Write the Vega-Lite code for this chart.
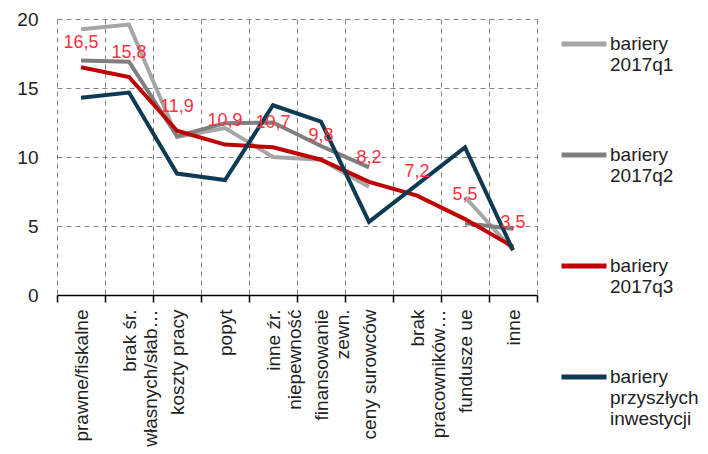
{
  "$schema": "https://vega.github.io/schema/vega-lite/v6.json",
  "width": 480,
  "height": 276,
  "autosize": {"type": "none"},
  "padding": {"left": 57, "top": 19, "right": 171, "bottom": 159},
  "background": "white",
  "config": {
    "font": "Liberation Sans",
    "view": {"stroke": null},
    "locale": {"number": {"decimal": ",", "thousands": " ", "grouping": [3], "currency": ["", " zł"]}}
  },
  "data": {
    "values": [
      {"cat": "prawne/fiskalne", "series": "bariery 2017q1", "value": 19.25},
      {"cat": "brak śr.\nwłasnych/słab…", "series": "bariery 2017q1", "value": 19.6},
      {"cat": "koszty pracy", "series": "bariery 2017q1", "value": 11.45},
      {"cat": "popyt", "series": "bariery 2017q1", "value": 12.1},
      {"cat": "inne źr.\nniepewność", "series": "bariery 2017q1", "value": 10.0},
      {"cat": "finansowanie\nzewn.", "series": "bariery 2017q1", "value": 9.8},
      {"cat": "ceny surowców", "series": "bariery 2017q1", "value": 7.85},
      {"cat": "brak\npracowników…", "series": "bariery 2017q1", "value": null},
      {"cat": "fundusze ue", "series": "bariery 2017q1", "value": 7.1},
      {"cat": "inne", "series": "bariery 2017q1", "value": 3.25},
      {"cat": "prawne/fiskalne", "series": "bariery 2017q2", "value": 17.0},
      {"cat": "brak śr.\nwłasnych/słab…", "series": "bariery 2017q2", "value": 16.9},
      {"cat": "koszty pracy", "series": "bariery 2017q2", "value": 11.5},
      {"cat": "popyt", "series": "bariery 2017q2", "value": 12.45},
      {"cat": "inne źr.\nniepewność", "series": "bariery 2017q2", "value": 12.5},
      {"cat": "finansowanie\nzewn.", "series": "bariery 2017q2", "value": 10.8},
      {"cat": "ceny surowców", "series": "bariery 2017q2", "value": 9.25},
      {"cat": "brak\npracowników…", "series": "bariery 2017q2", "value": null},
      {"cat": "fundusze ue", "series": "bariery 2017q2", "value": 5.2},
      {"cat": "inne", "series": "bariery 2017q2", "value": 4.8},
      {"cat": "prawne/fiskalne", "series": "bariery 2017q3", "value": 16.5},
      {"cat": "brak śr.\nwłasnych/słab…", "series": "bariery 2017q3", "value": 15.8},
      {"cat": "koszty pracy", "series": "bariery 2017q3", "value": 11.9},
      {"cat": "popyt", "series": "bariery 2017q3", "value": 10.9},
      {"cat": "inne źr.\nniepewność", "series": "bariery 2017q3", "value": 10.7},
      {"cat": "finansowanie\nzewn.", "series": "bariery 2017q3", "value": 9.8},
      {"cat": "ceny surowców", "series": "bariery 2017q3", "value": 8.2},
      {"cat": "brak\npracowników…", "series": "bariery 2017q3", "value": 7.2},
      {"cat": "fundusze ue", "series": "bariery 2017q3", "value": 5.5},
      {"cat": "inne", "series": "bariery 2017q3", "value": 3.5},
      {"cat": "prawne/fiskalne", "series": "bariery przyszłych inwestycji", "value": 14.3},
      {"cat": "brak śr.\nwłasnych/słab…", "series": "bariery przyszłych inwestycji", "value": 14.67},
      {"cat": "koszty pracy", "series": "bariery przyszłych inwestycji", "value": 8.8},
      {"cat": "popyt", "series": "bariery przyszłych inwestycji", "value": 8.33},
      {"cat": "inne źr.\nniepewność", "series": "bariery przyszłych inwestycji", "value": 13.75},
      {"cat": "finansowanie\nzewn.", "series": "bariery przyszłych inwestycji", "value": 12.56},
      {"cat": "ceny surowców", "series": "bariery przyszłych inwestycji", "value": 5.3},
      {"cat": "brak\npracowników…", "series": "bariery przyszłych inwestycji", "value": 8.0},
      {"cat": "fundusze ue", "series": "bariery przyszłych inwestycji", "value": 10.7},
      {"cat": "inne", "series": "bariery przyszłych inwestycji", "value": 3.25}
    ]
  },
  "layer": [
    {
      "mark": {"type": "line", "strokeWidth": 4, "invalid": "break-paths-show-domains"},
      "encoding": {
        "x": {
          "field": "cat", "type": "nominal", "sort": null,
          "scale": {"type": "band", "paddingInner": 0, "paddingOuter": 0},
          "axis": {
            "title": null,
            "tickBand": "extent",
            "grid": true, "gridDash": [5, 4], "gridColor": "#808080", "gridWidth": 1,
            "domainColor": "#000000", "domainWidth": 1.5,
            "tickColor": "#000000", "tickWidth": 1.5, "tickSize": 7,
            "labelAngle": -90, "labelAlign": "right", "labelBaseline": "middle",
            "labelFontSize": 19, "labelColor": "#222222", "labelPadding": 7,
            "labelLimit": 250, "labelOverlap": false,
            "labelExpr": "split(datum.label, '\\n')",
            "encode": {"labels": {"update": {"dy": {"signal": "length(split(datum.value, '\\n')) > 1 ? -11 : 0"}}}}
          }
        },
        "y": {
          "field": "value", "type": "quantitative",
          "scale": {"domain": [0, 20], "nice": false},
          "axis": {
            "title": null, "values": [0, 5, 10, 15, 20],
            "grid": true, "gridDash": [5, 4], "gridColor": "#808080", "gridWidth": 1,
            "domain": false, "ticks": false,
            "labelFontSize": 19, "labelColor": "#222222", "labelPadding": 19
          }
        },
        "color": {
          "field": "series", "type": "nominal",
          "scale": {
            "domain": ["bariery 2017q1", "bariery 2017q2", "bariery 2017q3", "bariery przyszłych inwestycji"],
            "range": ["#a6a6a6", "#7f7f7f", "#c00000", "#0e3b53"]
          },
          "legend": {
            "title": null, "orient": "none", "legendX": 502, "legendY": 0,
            "padding": 0,
            "symbolType": "stroke", "symbolSize": 2025, "symbolStrokeWidth": 5,
            "labelFontSize": 19, "labelColor": "#222222", "labelOffset": 1,
            "labelBaseline": "alphabetic", "labelLimit": 200,
            "rowPadding": 55,
            "labelExpr": "split(datum.label, ' ')",
            "encode": {"labels": {"update": {"dy": {"value": 6}}}}
          }
        }
      }
    },
    {
      "transform": [{"filter": "datum.series == 'bariery 2017q3'"}],
      "mark": {"type": "text", "dy": -24, "fontSize": 18, "color": "#ff3040", "baseline": "middle"},
      "encoding": {
        "x": {"field": "cat", "type": "nominal", "sort": null},
        "y": {"field": "value", "type": "quantitative"},
        "text": {"field": "value", "type": "quantitative", "format": ".1f"}
      }
    }
  ]
}
